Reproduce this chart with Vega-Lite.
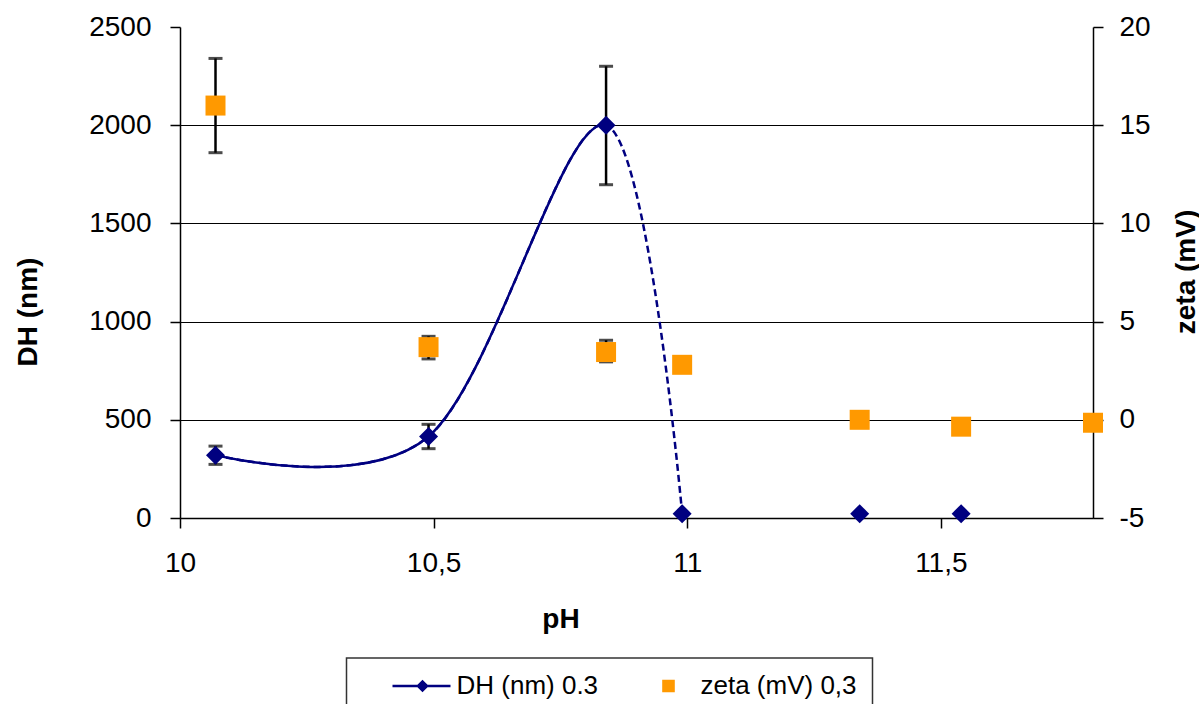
{
  "$schema": "https://vega.github.io/schema/vega-lite/v6.json",
  "width": 913,
  "height": 491,
  "autosize": {"type": "none"},
  "padding": {"left": 180, "top": 27, "right": 106, "bottom": 186},
  "background": "white",
  "config": {
    "font": "Liberation Sans",
    "view": {"stroke": null},
    "axis": {
      "domainColor": "#000", "domainWidth": 1.5,
      "tickColor": "#000", "tickWidth": 1.5, "tickSize": 10,
      "labelFont": "Liberation Sans", "labelFontSize": 28, "labelColor": "#000",
      "titleFont": "Liberation Sans", "titleFontSize": 28, "titleFontWeight": "bold", "titleColor": "#000",
      "grid": false, "labelOverlap": false, "labelFlush": false
    },
    "legend": {"strokeWidth": 1.5}
  },
  "datasets": {
    "dh": [
      {"ph": 10.07, "dh": 320, "lo": 273, "hi": 366, "curve": true, "series": "DH (nm) 0.3"},
      {"ph": 10.49, "dh": 415, "lo": 353, "hi": 477, "curve": true, "series": "DH (nm) 0.3"},
      {"ph": 10.84, "dh": 2000, "lo": 1697, "hi": 2300, "curve": true, "series": "DH (nm) 0.3"},
      {"ph": 10.99, "dh": 22, "lo": null, "hi": null, "curve": true, "series": "DH (nm) 0.3"},
      {"ph": 11.34, "dh": 22, "lo": null, "hi": null, "curve": false, "series": "DH (nm) 0.3"},
      {"ph": 11.54, "dh": 22, "lo": null, "hi": null, "curve": false, "series": "DH (nm) 0.3"}
    ],
    "zeta": [
      {"ph": 10.07, "zeta": 16.0, "lo": 13.6, "hi": 18.4, "series": "zeta (mV) 0,3"},
      {"ph": 10.49, "zeta": 3.7, "lo": 3.1, "hi": 4.25, "series": "zeta (mV) 0,3"},
      {"ph": 10.84, "zeta": 3.45, "lo": 2.95, "hi": 4.05, "series": "zeta (mV) 0,3"},
      {"ph": 10.99, "zeta": 2.8, "lo": null, "hi": null, "series": "zeta (mV) 0,3"},
      {"ph": 11.34, "zeta": 0.0, "lo": null, "hi": null, "series": "zeta (mV) 0,3"},
      {"ph": 11.54, "zeta": -0.35, "lo": null, "hi": null, "series": "zeta (mV) 0,3"},
      {"ph": 11.8, "zeta": -0.15, "lo": null, "hi": null, "series": "zeta (mV) 0,3"}
    ]
  },
  "encoding": {
    "x": {
      "field": "ph", "type": "quantitative",
      "scale": {"domain": [10, 11.8], "nice": false, "zero": false},
      "axis": {
        "orient": "bottom",
        "values": [10, 10.5, 11, 11.5],
        "labelExpr": "replace(format(datum.value, '~g'), '.', ',')",
        "labelPadding": 21,
        "title": "pH",
        "titleX": 380.5, "titleY": 109,
        "titleBaseline": "alphabetic", "titleAlign": "center"
      }
    }
  },
  "layer": [
    {
      "data": {"name": "dh"},
      "layer": [
        {
          "mark": {"type": "point", "filled": true, "size": 400, "opacity": 0},
          "encoding": {
            "y": {"field": "dh", "type": "quantitative", "scale": {"domain": [0, 2500], "nice": false, "zero": false},
              "axis": {"orient": "left", "values": [0, 500, 1000, 1500, 2000, 2500], "format": "d", "labelPadding": 19, "grid": true, "gridColor": "#000", "gridWidth": 1.2, "gridOpacity": {"condition": {"test": "datum.value >= 2500", "value": 0}, "value": 1}, "title": "DH (nm)", "titleAngle": 270, "titleX": -152, "titleY": 284.5, "titleBaseline": "middle", "titleAlign": "center"}},
            "color": {
              "field": "series", "type": "nominal",
              "scale": {"domain": ["DH (nm) 0.3", "zeta (mV) 0,3"], "range": ["#000080", "#FF9900"]},
              "legend": {
                "orient": "none", "legendX": 166.5, "legendY": 631,
                "direction": "horizontal", "title": null,
                "strokeColor": "#333", "padding": 15,
                "symbolSize": 400, "symbolOpacity": 1, "symbolStrokeWidth": 0,
                "labelFont": "Liberation Sans", "labelFontSize": 26, "labelColor": "#000",
                "labelOffset": 69, "columnPadding": 7, "labelLimit": 400
              }
            },
            "shape": {
              "field": "series", "type": "nominal",
              "scale": {"domain": ["DH (nm) 0.3", "zeta (mV) 0,3"], "range": ["M-1,0L-1,0M1.8,-0.12H7.6V0.12H1.8ZM4.8,-0.63L5.43,0L4.8,0.63L4.17,0Z", "M-1,0L-1,0M4.37,-0.63H5.63V0.63H4.37Z"]},
              "legend": {
                "orient": "none", "legendX": 166.5, "legendY": 631,
                "direction": "horizontal", "title": null,
                "strokeColor": "#333", "padding": 15,
                "symbolSize": 400, "symbolOpacity": 1, "symbolStrokeWidth": 0,
                "labelFont": "Liberation Sans", "labelFontSize": 26, "labelColor": "#000",
                "labelOffset": 69, "columnPadding": 7, "labelLimit": 400
              }
            }
          }
        },
        {
          "transform": [{"filter": "datum.curve"}],
          "mark": {"type": "line", "interpolate": "cardinal", "tension": 0, "color": "#000080", "strokeWidth": 2.5, "strokeDash": [7, 4]},
          "encoding": {"y": {"field": "dh", "type": "quantitative", "scale": {"domain": [0, 2500], "nice": false, "zero": false},
            "axis": {"orient": "left", "values": [0, 500, 1000, 1500, 2000, 2500], "format": "d", "labelPadding": 19, "grid": true, "gridColor": "#000", "gridWidth": 1.2, "gridOpacity": {"condition": {"test": "datum.value >= 2500", "value": 0}, "value": 1}, "title": "DH (nm)", "titleAngle": 270, "titleX": -152, "titleY": 284.5, "titleBaseline": "middle", "titleAlign": "center"}}}
        },
        {
          "transform": [{"filter": "datum.curve"}],
          "mark": {"type": "line", "interpolate": "cardinal", "tension": 0, "color": "#000080", "strokeWidth": 2.5, "strokeDash": [588, 3000]},
          "encoding": {"y": {"field": "dh", "type": "quantitative", "scale": {"domain": [0, 2500], "nice": false, "zero": false},
            "axis": {"orient": "left", "values": [0, 500, 1000, 1500, 2000, 2500], "format": "d", "labelPadding": 19, "grid": true, "gridColor": "#000", "gridWidth": 1.2, "gridOpacity": {"condition": {"test": "datum.value >= 2500", "value": 0}, "value": 1}, "title": "DH (nm)", "titleAngle": 270, "titleX": -152, "titleY": 284.5, "titleBaseline": "middle", "titleAlign": "center"}}}
        },
        {
          "transform": [{"filter": "datum.lo != null"}],
          "mark": {"type": "rule", "color": "#000", "strokeWidth": 2.5},
          "encoding": {
            "y": {"field": "lo", "type": "quantitative", "scale": {"domain": [0, 2500], "nice": false, "zero": false},
              "axis": {"orient": "left", "values": [0, 500, 1000, 1500, 2000, 2500], "format": "d", "labelPadding": 19, "grid": true, "gridColor": "#000", "gridWidth": 1.2, "gridOpacity": {"condition": {"test": "datum.value >= 2500", "value": 0}, "value": 1}, "title": "DH (nm)", "titleAngle": 270, "titleX": -152, "titleY": 284.5, "titleBaseline": "middle", "titleAlign": "center"}},
            "y2": {"field": "hi"}
          }
        },
        {
          "transform": [{"filter": "datum.lo != null"}],
          "mark": {"type": "tick", "orient": "horizontal", "color": "#000", "size": 14, "thickness": 3},
          "encoding": {"y": {"field": "lo", "type": "quantitative", "scale": {"domain": [0, 2500], "nice": false, "zero": false},
            "axis": {"orient": "left", "values": [0, 500, 1000, 1500, 2000, 2500], "format": "d", "labelPadding": 19, "grid": true, "gridColor": "#000", "gridWidth": 1.2, "gridOpacity": {"condition": {"test": "datum.value >= 2500", "value": 0}, "value": 1}, "title": "DH (nm)", "titleAngle": 270, "titleX": -152, "titleY": 284.5, "titleBaseline": "middle", "titleAlign": "center"}}}
        },
        {
          "transform": [{"filter": "datum.lo != null"}],
          "mark": {"type": "tick", "orient": "horizontal", "color": "#000", "size": 14, "thickness": 3},
          "encoding": {"y": {"field": "hi", "type": "quantitative", "scale": {"domain": [0, 2500], "nice": false, "zero": false},
            "axis": {"orient": "left", "values": [0, 500, 1000, 1500, 2000, 2500], "format": "d", "labelPadding": 19, "grid": true, "gridColor": "#000", "gridWidth": 1.2, "gridOpacity": {"condition": {"test": "datum.value >= 2500", "value": 0}, "value": 1}, "title": "DH (nm)", "titleAngle": 270, "titleX": -152, "titleY": 284.5, "titleBaseline": "middle", "titleAlign": "center"}}}
        },
        {
          "mark": {"type": "point", "shape": "diamond", "filled": true, "size": 361, "opacity": 1},
          "encoding": {
            "y": {"field": "dh", "type": "quantitative", "scale": {"domain": [0, 2500], "nice": false, "zero": false},
              "axis": {"orient": "left", "values": [0, 500, 1000, 1500, 2000, 2500], "format": "d", "labelPadding": 19, "grid": true, "gridColor": "#000", "gridWidth": 1.2, "gridOpacity": {"condition": {"test": "datum.value >= 2500", "value": 0}, "value": 1}, "title": "DH (nm)", "titleAngle": 270, "titleX": -152, "titleY": 284.5, "titleBaseline": "middle", "titleAlign": "center"}},
            "color": {"field": "series", "type": "nominal", "legend": null}
          }
        }
      ]
    },
    {
      "data": {"name": "zeta"},
      "layer": [
        {
          "transform": [{"filter": "datum.lo != null"}],
          "mark": {"type": "rule", "color": "#000", "strokeWidth": 2.5},
          "encoding": {
            "y": {"field": "lo", "type": "quantitative", "scale": {"domain": [-5, 20], "nice": false, "zero": false},
              "axis": {"orient": "right", "values": [-5, 0, 5, 10, 15, 20], "labelExpr": "'' + datum.value", "labelPadding": 16, "title": "zeta (mV)", "titleAngle": 270, "titleX": 93, "titleY": 244.5, "titleBaseline": "middle", "titleAlign": "center"}},
            "y2": {"field": "hi"}
          }
        },
        {
          "transform": [{"filter": "datum.lo != null"}],
          "mark": {"type": "tick", "orient": "horizontal", "color": "#000", "size": 14, "thickness": 3},
          "encoding": {"y": {"field": "lo", "type": "quantitative", "scale": {"domain": [-5, 20], "nice": false, "zero": false},
            "axis": {"orient": "right", "values": [-5, 0, 5, 10, 15, 20], "labelExpr": "'' + datum.value", "labelPadding": 16, "title": "zeta (mV)", "titleAngle": 270, "titleX": 93, "titleY": 244.5, "titleBaseline": "middle", "titleAlign": "center"}}}
        },
        {
          "transform": [{"filter": "datum.lo != null"}],
          "mark": {"type": "tick", "orient": "horizontal", "color": "#000", "size": 14, "thickness": 3},
          "encoding": {"y": {"field": "hi", "type": "quantitative", "scale": {"domain": [-5, 20], "nice": false, "zero": false},
            "axis": {"orient": "right", "values": [-5, 0, 5, 10, 15, 20], "labelExpr": "'' + datum.value", "labelPadding": 16, "title": "zeta (mV)", "titleAngle": 270, "titleX": 93, "titleY": 244.5, "titleBaseline": "middle", "titleAlign": "center"}}}
        },
        {
          "mark": {"type": "point", "shape": "square", "filled": true, "size": 400, "opacity": 1},
          "encoding": {
            "y": {"field": "zeta", "type": "quantitative", "scale": {"domain": [-5, 20], "nice": false, "zero": false},
              "axis": {"orient": "right", "values": [-5, 0, 5, 10, 15, 20], "labelExpr": "'' + datum.value", "labelPadding": 16, "title": "zeta (mV)", "titleAngle": 270, "titleX": 93, "titleY": 244.5, "titleBaseline": "middle", "titleAlign": "center"}},
            "color": {"field": "series", "type": "nominal", "legend": null}
          }
        }
      ]
    }
  ],
  "resolve": {"scale": {"y": "independent"}}
}
